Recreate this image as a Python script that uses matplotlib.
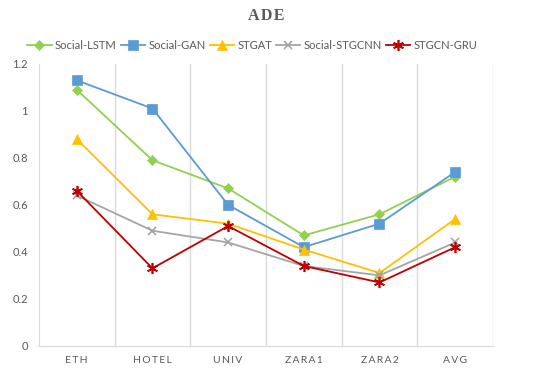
import matplotlib
matplotlib.use("Agg")
import matplotlib.pyplot as plt
import numpy as np

categories = ["ETH", "HOTEL", "UNIV", "ZARA1", "ZARA2", "AVG"]
social_lstm = [1.09, 0.79, 0.67, 0.47, 0.56, 0.72]
social_gan = [1.13, 1.01, 0.60, 0.42, 0.52, 0.74]
stgat = [0.88, 0.56, 0.52, 0.41, 0.31, 0.54]
social_stgcnn = [0.64, 0.49, 0.44, 0.34, 0.30, 0.44]
stgcn_gru = [0.66, 0.33, 0.51, 0.34, 0.27, 0.42]
y_ticks = [0, 0.2, 0.4, 0.6, 0.8, 1, 1.2]
y_tick_labels = ["0", "0.2", "0.4", "0.6", "0.8", "1", "1.2"]

plt.rcParams["font.family"] = ["Lato", "DejaVu Sans"]

fig = plt.figure(figsize=(5.33, 3.78), dpi=100)
ax = fig.add_axes([0.073, 0.085, 0.852, 0.746])

x = np.arange(len(categories))
series = [
    ("Social-LSTM", social_lstm, "#92D050", "D", 5),
    ("Social-GAN", social_gan, "#5B9BD5", "s", 7),
    ("STGAT", stgat, "#FFC000", "^", 7),
    ("Social-STGCNN", social_stgcnn, "#A5A5A5", "x", 6),
    ("STGCN-GRU", stgcn_gru, "#C00000", (6, 2, 0), 8),
]
for name, vals, col, mk, ms in series:
    ax.plot(x, vals, color=col, marker=mk, markersize=ms, linewidth=1.3,
            label=name, markeredgewidth=1.2 if mk in ("x",) or isinstance(mk, tuple) else 0.5)

ax.set_xlim(-0.5, len(categories) - 0.5)
ax.set_ylim(0, 1.2)
ax.set_yticks(y_ticks)
ax.set_yticklabels(y_tick_labels)
ax.set_xticks(x)
ax.set_xticklabels(["\u2009".join(c) for c in categories])
for b in np.arange(0.5, len(categories) - 0.5, 1):
    ax.axvline(b, color="#D9D9D9", linewidth=1, zorder=0)
ax.axvline(len(categories) - 0.5, color="#D9D9D9", linewidth=1, zorder=0)

for s in ["top", "right"]:
    ax.spines[s].set_visible(False)
for s in ["left", "bottom"]:
    ax.spines[s].set_color("#D9D9D9")
ax.tick_params(length=0, colors="#595959", labelsize=8)
ax.tick_params(axis="x", pad=7, labelsize=7.5)
ax.tick_params(axis="y", pad=8)

fig.text(0.5, 0.958, "A\u200aD\u200aE", ha="center", va="center", fontsize=11.5, fontweight="bold",
         family="Liberation Serif", color="#595959")
leg = ax.legend(loc="center", bbox_to_anchor=(0.47, 1.065), ncol=5, frameon=False,
                fontsize=8, handlelength=2.2, columnspacing=0.35, handletextpad=0.3)
for t in leg.get_texts():
    t.set_color("#595959")

fig.savefig("out.png", dpi=100)
